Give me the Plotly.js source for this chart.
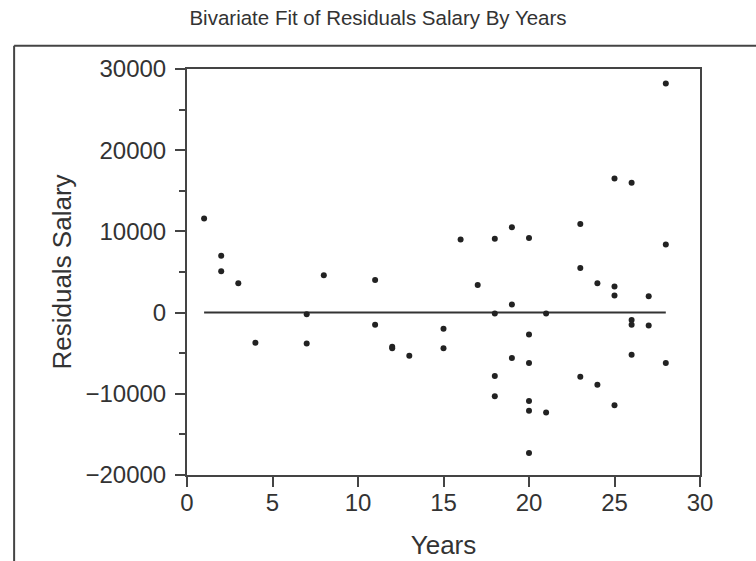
<!DOCTYPE html>
<html>
<head>
<meta charset="utf-8">
<script src="https://cdn.plot.ly/plotly-3.0.1.min.js"></script>
<style>
  html, body { margin: 0; padding: 0; background: #fff; }
  #chart { width: 756px; height: 561px; }
</style>
</head>
<body>
<div id="chart"></div>
<script>
// Data
const years = [1, 2, 2, 3, 4, 7, 7, 8, 11, 11, 12, 12, 13, 15, 15, 16, 17,
  18, 18, 18, 18, 19, 19, 19, 20, 20, 20, 20, 20, 20, 21, 21,
  23, 23, 23, 24, 24, 25, 25, 25, 25, 26, 26, 26, 26, 27, 27, 28, 28, 28];
const residuals = [11600, 7000, 5100, 3600, -3700, -200, -3800, 4600, 4000, -1500, -4200, -4400, -5300, -2000, -4400, 9000, 3400,
  9100, -100, -7800, -10300, 10500, 1000, -5600, 9200, -2700, -6200, -10900, -12100, -17300, -100, -12300,
  10900, 5500, -7900, 3600, -8900, 16500, 3200, 2100, -11400, 16000, -900, -1500, -5200, 2000, -1600, 28200, 8400, -6200];
const fitX = [1, 28];
const fitY = [0, 0];

const xTickVals = [0, 5, 10, 15, 20, 25, 30];
const yTickVals = [-20000, -10000, 0, 10000, 20000, 30000];
const yTickText = ["\u221220000", "\u221210000", "0", "10000", "20000", "30000"];

const titleText = "Bivariate Fit of Residuals Salary By Years";
const xTitle = "Years";
const yTitle = "Residuals Salary";

const ink = "#333333";
const fontFam = "Liberation Sans, Arial, Helvetica, sans-serif";

const traces = [
  {
    x: fitX, y: fitY, type: "scatter", mode: "lines",
    line: { color: ink, width: 2 }, hoverinfo: "skip", showlegend: false
  },
  {
    x: years, y: residuals, type: "scatter", mode: "markers",
    marker: { symbol: "circle", size: 6, color: "#222222" }, showlegend: false
  }
];

const layout = {
  width: 756, height: 561,
  margin: { l: 187, r: 56, t: 69, b: 86, pad: 0 },
  paper_bgcolor: "#ffffff", plot_bgcolor: "#ffffff",
  font: { family: fontFam, color: ink },
  title: {
    text: titleText,
    font: { family: fontFam, size: 20.5, color: ink },
    xref: "container", x: 0.5, xanchor: "center",
    yref: "container", y: 0.968, yanchor: "middle"
  },
  xaxis: {
    range: [0, 30], tickmode: "array", tickvals: xTickVals,
    showgrid: false, zeroline: false,
    showline: true, linecolor: "#444", linewidth: 2, mirror: true,
    ticks: "outside", ticklen: 10, tickwidth: 2, tickcolor: "#444",
    tickfont: { family: fontFam, size: 24, color: ink },
    ticklabelstandoff: -5,
    title: { text: xTitle, font: { family: fontFam, size: 26, color: ink }, standoff: 21 }
  },
  yaxis: {
    range: [-20000, 30000], tickmode: "array",
    tickvals: yTickVals, ticktext: yTickText,
    showgrid: false, zeroline: false,
    showline: true, linecolor: "#444", linewidth: 2, mirror: true,
    ticks: "outside", ticklen: 10, tickwidth: 2, tickcolor: "#444",
    minor: { dtick: 5000, tick0: 0, ticks: "outside", ticklen: 6, tickwidth: 2, tickcolor: "#444", showgrid: false },
    tickfont: { family: fontFam, size: 24, color: ink },
    ticklabelstandoff: 4,
    title: { text: yTitle, font: { family: fontFam, size: 26, color: ink }, standoff: 6 }
  },
  shapes: [
    { type: "line", xref: "paper", yref: "paper", x0: -0.337, x1: 1.12, y0: 1.0574, y1: 1.0574,
      line: { color: "#444", width: 2 } },
    { type: "line", xref: "paper", yref: "paper", x0: -0.337, x1: -0.337, y0: 1.0574, y1: -0.22,
      line: { color: "#444", width: 2 } }
  ]
};

Plotly.newPlot("chart", traces, layout, { displayModeBar: false, staticPlot: true });
</script>
</body>
</html>
